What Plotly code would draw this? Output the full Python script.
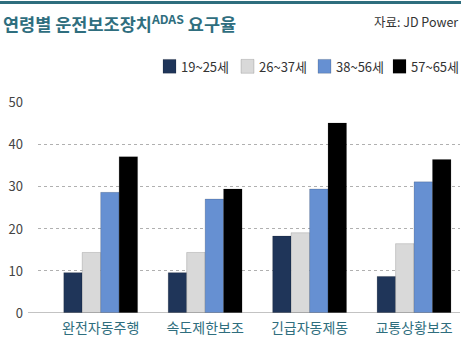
import plotly.graph_objects as go

categories = ["완전자동주행", "속도제한보조", "긴급자동제동", "교통상황보조"]
age_groups = ["19~25세", "26~37세", "38~56세", "57~65세"]
values = {
    "19~25세": [9.6, 9.6, 18.3, 8.7],
    "26~37세": [14.4, 14.4, 19.1, 16.5],
    "38~56세": [28.7, 27.1, 29.5, 31.2],
    "57~65세": [37.2, 29.5, 45.2, 36.5],
}
colors = ["#1F3559", "#D9D9D9", "#6690D2", "#000000"]
y_ticks = [0, 10, 20, 30, 40, 50]

FONT = "Noto Sans CJK KR"
TEAL = "#2F6E7E"
W, H = 461, 338
ML, MR, MT, MB = 38, 1, 102, 23
PW, PH = W - ML - MR, H - MT - MB


def px_x(px):
    return (px - ML) / PW


def px_y(py):
    return (H - MB - py) / PH


fig = go.Figure()
for name, color in zip(age_groups, colors):
    fig.add_trace(go.Bar(
        x=list(range(len(categories))),
        y=values[name],
        name=name,
        showlegend=False,
        marker=dict(color=color, line=dict(color="rgba(0,0,0,0.25)", width=0.6)),
    ))

fig.update_layout(
    width=W, height=H,
    margin=dict(l=ML, r=MR, t=MT, b=MB),
    paper_bgcolor="white", plot_bgcolor="white",
    barmode="group", bargap=0.293, bargroupgap=0,
    font=dict(family=FONT, size=13, color="#444"),
    xaxis=dict(
        tickmode="array", tickvals=list(range(len(categories))), ticktext=categories,
        range=[-0.6, 3.44], showgrid=False, zeroline=False, showline=False,
        ticks="", ticklabelstandoff=5,
        tickfont=dict(size=14, color=TEAL, family=FONT),
    ),
    yaxis=dict(
        range=[0, 50.2], tickvals=y_ticks, showgrid=True,
        gridcolor="#B0B0B0", griddash="dot", gridwidth=1,
        zeroline=False, showline=False, ticks="",
        tickfont=dict(size=13, color="#444"), ticklabelstandoff=14,
    ),
)

# legend: colour swatch + label for each age group
legend_x = [163, 241, 318, 393]
for name, color, lx in zip(age_groups, colors, legend_x):
    fig.add_shape(type="rect", xref="paper", yref="paper",
                  x0=px_x(lx), x1=px_x(lx + 13), y0=px_y(73), y1=px_y(59),
                  fillcolor=color, line=dict(color="rgba(0,0,0,0.25)", width=0.6))
    fig.add_annotation(xref="paper", yref="paper", x=px_x(lx + 16), y=px_y(66),
                       xanchor="left", yanchor="middle", showarrow=False,
                       text=name, font=dict(size=13, color="#333", family=FONT))

# baseline
fig.add_shape(type="line", xref="paper", yref="y", x0=px_x(28), x1=px_x(460), y0=0, y1=0,
              line=dict(color="#888", width=1.2))
# top band
fig.add_shape(type="rect", xref="paper", yref="paper", x0=px_x(0), x1=px_x(W),
              y0=px_y(3), y1=px_y(0), line=dict(width=0), fillcolor=TEAL)

fig.add_annotation(
    xref="paper", yref="paper", x=px_x(1), y=px_y(22),
    xanchor="left", yanchor="middle", showarrow=False,
    text="<b>연령별 운전보조장치<sup>ADAS</sup> 요구율</b>",
    font=dict(size=17.5, color=TEAL, family=FONT),
)
fig.add_annotation(
    xref="paper", yref="paper", x=px_x(460), y=px_y(21),
    xanchor="right", yanchor="middle", showarrow=False,
    text="자료: JD Power",
    font=dict(size=12.5, color="#333", family=FONT),
)

fig.write_html("out.html")
